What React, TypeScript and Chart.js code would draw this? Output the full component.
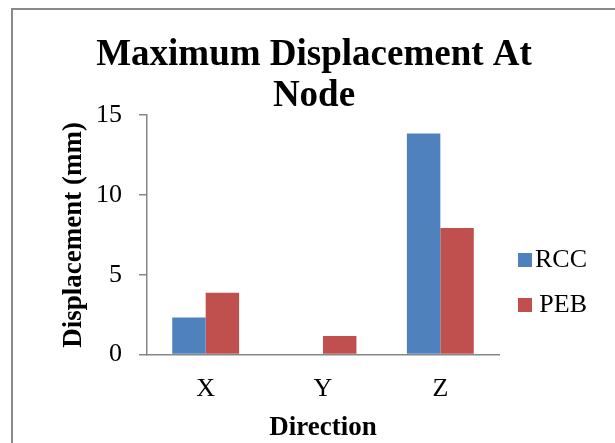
import { useEffect, useRef } from 'react';
import { Chart, registerables } from 'chart.js';

Chart.register(...registerables);

const categories = ['X', 'Y', 'Z'];
const seriesNames = ['RCC', 'PEB'];
const rccValues = [2.32, 0, 13.85];
const pebValues = [3.87, 1.17, 7.93];
const chartTitle = ['Maximum Displacement At', 'Node'];
const xAxisTitle = 'Direction';
const yAxisTitle = 'Displacement (mm)';
const yTickValues = [0, 5, 10, 15];

export default function App() {
  const ref = useRef<HTMLCanvasElement>(null);

  useEffect(() => {
    const serif = "'Liberation Serif', 'Times New Roman', serif";
    const gray = '#878787';
    const chart = new Chart(ref.current!, {
      type: 'bar',
      data: {
        labels: categories,
        datasets: [
          { label: seriesNames[0], data: rccValues, backgroundColor: '#4F81BD', borderWidth: 0, categoryPercentage: 0.57, barPercentage: 1 },
          { label: seriesNames[1], data: pebValues, backgroundColor: '#C0504D', borderWidth: 0, categoryPercentage: 0.57, barPercentage: 1 },
        ],
      },
      options: {
        responsive: false,
        animation: false,
        layout: { padding: { left: 41, right: 28, top: 0, bottom: 0 } },
        plugins: {
          tooltip: { enabled: false },
          title: {
            display: true,
            text: chartTitle,
            color: '#000',
            font: { family: serif, size: 37, weight: 'bold', lineHeight: 1.11 },
            padding: { top: 35, bottom: -2 },
          },
          legend: {
            display: true,
            position: 'right',
            maxWidth: 88,
            title: { display: true, text: ' ', font: { size: 10, lineHeight: 1.2 }, padding: { top: 110, bottom: 0 } },
            labels: {
              boxWidth: 14,
              boxHeight: 14,
              padding: 19,
              textAlign: 'right',
              color: '#000',
              font: { family: serif, size: 26 },
            },
          },
        },
        scales: {
          x: {
            grid: { display: false, drawTicks: false },
            border: { display: true, color: gray, width: 1.5 },
            ticks: { color: '#000', padding: 23, font: { family: serif, size: 26, lineHeight: 0.9 } },
            title: {
              display: true,
              text: xAxisTitle,
              color: '#000',
              font: { family: serif, size: 27, weight: 'bold', lineHeight: 0.8 },
              padding: { top: -7, bottom: 4.4 },
            },
          },
          y: {
            min: yTickValues[0],
            max: yTickValues[yTickValues.length - 1],
            grid: { drawOnChartArea: false, drawTicks: true, tickLength: 8, color: gray, lineWidth: 1.5 },
            border: { display: true, color: gray, width: 1.5 },
            ticks: { stepSize: yTickValues[1] - yTickValues[0], color: '#000', padding: 17, font: { family: serif, size: 26 } },
            title: {
              display: true,
              text: yAxisTitle,
              color: '#000',
              font: { family: serif, size: 27, weight: 'bold', lineHeight: 1 },
              padding: { top: 19.5, bottom: -8.5 },
            },
          },
        },
      },
    });
    return () => chart.destroy();
  }, []);

  return (
    <div style={{ position: 'fixed', left: 0, top: 0, width: 615, height: 443, overflow: 'hidden', background: '#fff' }}>
      <div
        style={{
          position: 'absolute',
          left: 11,
          top: 8,
          width: 700,
          height: 600,
          borderLeft: '2px solid #8a8a8a',
          borderTop: '2px solid #8a8a8a',
        }}
      />
      <canvas ref={ref} width={615} height={443} style={{ position: 'absolute', left: 0, top: 0 }} />
    </div>
  );
}
